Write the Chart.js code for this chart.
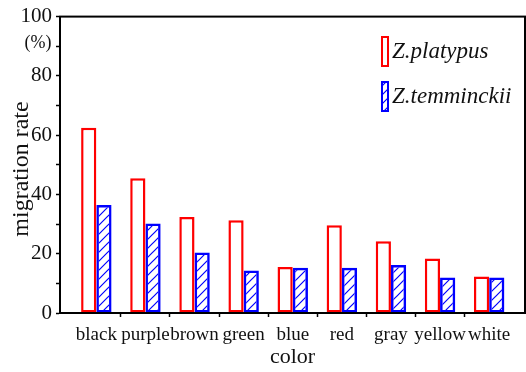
<!DOCTYPE html>
<html>
<head>
<meta charset="utf-8">
<script src="https://cdn.jsdelivr.net/npm/chart.js@4.4.1/dist/chart.umd.min.js"></script>
<style>
    html, body { margin: 0; padding: 0; background: #fff; }
    #wrap { width: 526px; height: 372px; }
</style>
</head>
<body>
<div id="wrap"><canvas id="rateChart"></canvas></div>
<script>
const colorNames = ['black', 'purple', 'brown', 'green', 'blue', 'red', 'gray', 'yellow', 'white'];
const platypusRates = [62.5, 45.5, 32.4, 31.3, 15.5, 29.6, 24.2, 18.4, 12.3];
const temminckiiRates = [36.4, 30.2, 20.4, 14.3, 15.3, 15.3, 16.2, 12, 12];
const yLabelValues = [0, 20, 40, 60, 80, 100];

const serif = "'Liberation Serif', 'Times New Roman', serif";

// diagonal hatch for the second species
function makeHatch(color) {
    const tile = document.createElement('canvas');
    tile.width = 9;
    tile.height = 9;
    const c = tile.getContext('2d');
    c.strokeStyle = color;
    c.lineWidth = 1.2;
    c.beginPath();
    c.moveTo(0, 9); c.lineTo(9, 0);
    c.moveTo(-1, 1); c.lineTo(1, -1);
    c.moveTo(8, 10); c.lineTo(10, 8);
    c.stroke();
    return document.getElementById('rateChart').getContext('2d').createPattern(tile, 'repeat');
}

const hatch = makeHatch('#0000ff');

// frame, y title, (%) and the legend inside the plot
const decorPlugin = {
    id: 'decor',
    afterDraw(chart) {
        const ctx = chart.ctx;
        const a = chart.chartArea;
        ctx.save();
        ctx.strokeStyle = '#000';
        ctx.lineWidth = 2;
        ctx.strokeRect(a.left, a.top, a.right - a.left, a.bottom - a.top);

        ctx.fillStyle = '#111';
        ctx.font = '24px ' + serif;
        ctx.textAlign = 'center';
        ctx.textBaseline = 'middle';
        ctx.translate(22, 169);
        ctx.rotate(-Math.PI / 2);
        ctx.fillText('migration rate', 0, 0);
        ctx.restore();

        ctx.save();
        ctx.fillStyle = '#111';
        ctx.font = '18px ' + serif;
        ctx.textAlign = 'center';
        ctx.textBaseline = 'middle';
        ctx.fillText('(%)', 38, 43);

        const rows = [36, 81];
        chart.data.datasets.forEach((ds, i) => {
            const y = rows[i];
            ctx.fillStyle = ds.backgroundColor;
            ctx.fillRect(382, y + 1, 6, 29);
            ctx.strokeStyle = ds.borderColor;
            ctx.lineWidth = 2;
            ctx.strokeRect(382, y + 1, 6, 29);
            ctx.fillStyle = '#111';
            ctx.font = 'italic 23px ' + serif;
            ctx.textAlign = 'left';
            ctx.fillText(ds.label, 392, y + 16);
        });
        ctx.restore();
    }
};

// label ticks on the categories, tick marks on the half steps between them
const xTicks = [];
for (let v = 0; v <= colorNames.length - 1; v += 0.5) xTicks.push({ value: v });

new Chart(document.getElementById('rateChart'), {
    type: 'bar',
    data: {
        datasets: [
            {
                label: 'Z.platypus',
                data: platypusRates.map((v, i) => ({ x: i, y: v })),
                backgroundColor: '#ffffff',
                borderColor: '#ff0000',
                borderWidth: 2.5,
                borderSkipped: false,
                categoryPercentage: 1.24, // ruler sees the half-step ticks
                barPercentage: 1
            },
            {
                label: 'Z.temminckii',
                data: temminckiiRates.map((v, i) => ({ x: i, y: v })),
                backgroundColor: hatch,
                borderColor: '#0000ff',
                borderWidth: 2.5,
                borderSkipped: false,
                categoryPercentage: 1.24,
                barPercentage: 1
            }
        ]
    },
    options: {
        responsive: true,
        maintainAspectRatio: false,
        animation: false,
        layout: { padding: { top: 13, right: 1, left: 0, bottom: 0 } },
        plugins: {
            legend: { display: false },
            tooltip: { enabled: false }
        },
        scales: {
            x: {
                type: 'linear',
                min: -0.74,
                max: 8.73,
                offset: false,
                afterBuildTicks: scale => { scale.ticks = xTicks.map(t => ({ value: t.value })); },
                afterFit: scale => { scale.height = 59; },
                grid: {
                    offset: false,
                    drawOnChartArea: false,
                    tickLength: 4,
                    tickWidth: 1.5,
                    tickColor: c => (c.tick && Number.isInteger(c.tick.value)) ? 'rgba(0,0,0,0)' : '#000'
                },
                border: { display: true, color: '#000', width: 2 },
                ticks: {
                    autoSkip: false,
                    maxRotation: 0,
                    padding: 7,
                    color: '#111',
                    font: { family: serif, size: 19 },
                    callback: v => Number.isInteger(v) ? colorNames[v] : ''
                },
                title: {
                    display: true,
                    text: 'color',
                    color: '#111',
                    font: { family: serif, size: 22 },
                    padding: { top: 0, bottom: 2 }
                }
            },
            y: {
                min: 0,
                max: 100,
                afterFit: scale => { scale.width = 60; },
                grid: {
                    drawOnChartArea: false,
                    tickLength: 4,
                    tickWidth: 1.5,
                    tickColor: '#000'
                },
                border: { display: true, color: '#000', width: 2 },
                ticks: {
                    stepSize: 5,
                    padding: 4,
                    color: '#111',
                    font: { family: serif, size: 21 },
                    callback: v => yLabelValues.includes(v) ? v : ''
                }
            }
        }
    },
    plugins: [decorPlugin]
});
</script>
</body>
</html>
